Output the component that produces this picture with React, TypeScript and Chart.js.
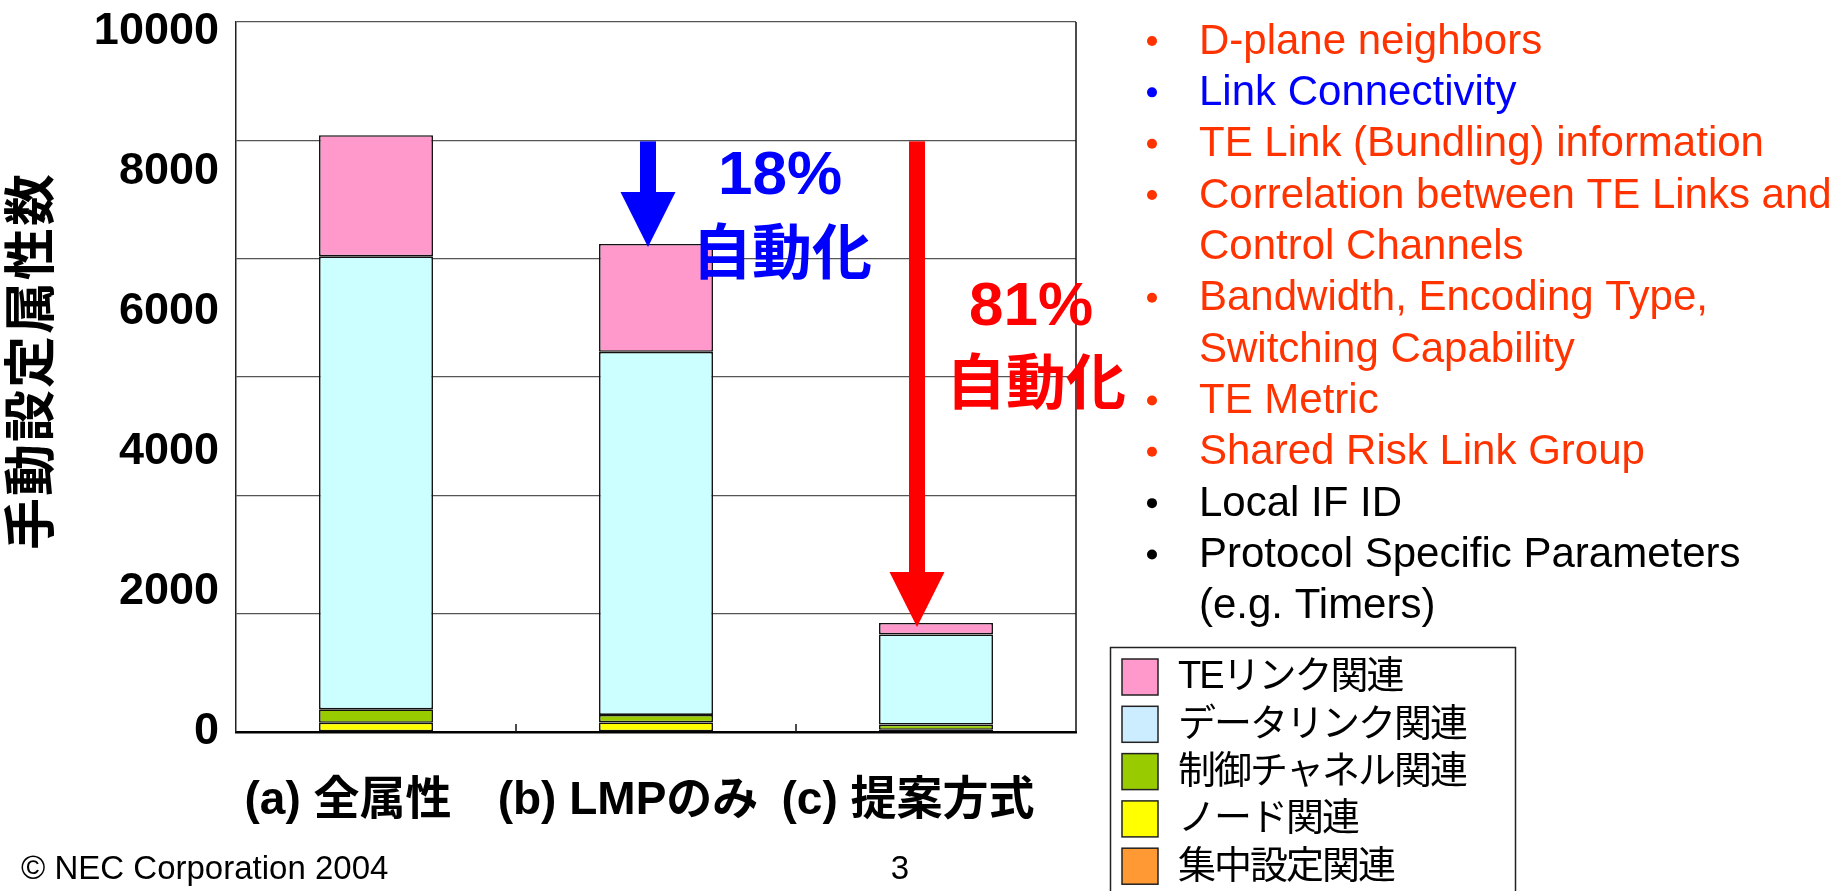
import React, { useEffect, useRef } from 'react';
import { Chart, registerables } from 'chart.js';

Chart.register(...registerables);

// ---------- data ----------
const categories = ['(a) 全属性', '(b) LMPのみ', '(c) 提案方式'];
const seriesNames = ['集中設定関連', 'ノード関連', '制御チャネル関連', 'データリンク関連', 'TEリンク関連'];
const centralValues = [0, 0, 0];
const nodeValues = [130, 135, 30];
const controlValues = [190, 105, 75];
const dataLinkValues = [6380, 5115, 1270];
const teLinkValues = [1705, 1518, 160];
const yTickLabels = [0, 2000, 4000, 6000, 8000, 10000];
const gridValues = [0, 1667, 3333, 5000, 6667, 8333, 10000];
const yTitle = '手動設定属性数';
const reductionLabels = ['18%', '81%'];
const automationLabel = '自動化';
const bulletTexts = [
  'D-plane neighbors',
  'Link Connectivity',
  'TE Link (Bundling) information',
  'Correlation between TE Links and',
  'Control Channels',
  'Bandwidth, Encoding Type,',
  'Switching Capability',
  'TE Metric',
  'Shared Risk Link Group',
  'Local IF ID',
  'Protocol Specific Parameters',
  '(e.g. Timers)',
];
const bulletFlags = [true, true, true, true, false, true, false, true, true, true, true, false];
const footerText = '© NEC Corporation 2004';
const pageNumber = '3';

// ---------- styles ----------
const seriesColors = ['#FF9933', '#FFFF00', '#99CC00', '#CCFFFF', '#FF99CC'];
const legendSwatchColors = ['#FF9933', '#FFFF00', '#99CC00', '#CCECFF', '#FF99CC'];
const bulletColors = ['#FF3300', '#0000FF', '#FF3300', '#FF3300', '#FF3300', '#FF3300', '#FF3300', '#FF3300', '#FF3300', '#000000', '#000000', '#000000'];
const FONT = '"Liberation Sans", Arial, "Noto Sans CJK JP", sans-serif';

const seriesValues = [centralValues, nodeValues, controlValues, dataLinkValues, teLinkValues];

function drawArrow(ctx: CanvasRenderingContext2D, cx: number, y0: number, tipY: number, color: string) {
  const shaftHalf = 8;
  const headHalf = 27.5;
  const headLen = 55;
  ctx.fillStyle = color;
  ctx.fillRect(cx - shaftHalf, y0, shaftHalf * 2, tipY - headLen - y0 + 1);
  ctx.beginPath();
  ctx.moveTo(cx - headHalf, tipY - headLen);
  ctx.lineTo(cx + headHalf, tipY - headLen);
  ctx.lineTo(cx, tipY);
  ctx.closePath();
  ctx.fill();
}

const annotPlugin = {
  id: 'annot',
  afterDraw(chart: any) {
    const { ctx, chartArea: ca, scales } = chart;
    const xs = scales.x;
    const ys = scales.y;
    ctx.save();
    // right border of plot
    ctx.strokeStyle = '#111';
    ctx.lineWidth = 1.5;
    ctx.beginPath();
    ctx.moveTo(ca.right, ca.top);
    ctx.lineTo(ca.right, ca.bottom);
    ctx.stroke();
    // category boundary ticks
    for (let i = 1; i < categories.length; i++) {
      const px = (xs.getPixelForValue(i - 1) + xs.getPixelForValue(i)) / 2;
      ctx.beginPath();
      ctx.moveTo(px, ca.bottom);
      ctx.lineTo(px, ca.bottom - 8);
      ctx.stroke();
    }

    // y axis title
    ctx.save();
    ctx.translate(35, 361);
    ctx.rotate(-Math.PI / 2);
    ctx.textAlign = 'center';
    ctx.textBaseline = 'middle';
    ctx.fillStyle = '#000';
    ctx.font = `bold 52px ${FONT}`;
    try { (ctx as any).letterSpacing = '2px'; } catch (e) {}
    ctx.fillText(yTitle, 0, 0);
    try { (ctx as any).letterSpacing = '0px'; } catch (e) {}
    ctx.restore();

    // arrows
    const totals = categories.map((_, i) => seriesValues.reduce((s, arr) => s + arr[i], 0));
    const startY = ys.getPixelForValue(gridValues[5]) + 1;
    drawArrow(ctx, xs.getPixelForValue(1) - 8, startY, ys.getPixelForValue(totals[1]) + 3, '#0000FF');
    drawArrow(ctx, xs.getPixelForValue(2) - 19, startY, ys.getPixelForValue(totals[2]) + 4, '#FF0000');

    // annotation texts
    ctx.textAlign = 'center';
    ctx.textBaseline = 'middle';
    ctx.fillStyle = '#0000FF';
    ctx.font = `bold 62px ${FONT}`;
    ctx.fillText(reductionLabels[0], 780, 177);
    ctx.font = `bold 60px ${FONT}`;
    ctx.fillText(automationLabel, 782, 257);
    ctx.fillStyle = '#FF0000';
    ctx.font = `bold 62px ${FONT}`;
    ctx.fillText(reductionLabels[1], 1031, 308);
    ctx.font = `bold 60px ${FONT}`;
    ctx.fillText(automationLabel, 1036, 387);

    // bullet list
    ctx.textAlign = 'left';
    ctx.font = `42px ${FONT}`;
    bulletTexts.forEach((t, i) => {
      const cy = 41 + 51.35 * i;
      ctx.fillStyle = bulletColors[i];
      if (bulletFlags[i]) {
        ctx.beginPath();
        ctx.arc(1152, cy, 5, 0, Math.PI * 2);
        ctx.fill();
      }
      ctx.fillText(t, 1199, cy + 1);
    });

    // legend box
    ctx.strokeStyle = '#222';
    ctx.lineWidth = 1.5;
    ctx.strokeRect(1110.5, 647.5, 405, 260);
    const ds = chart.data.datasets;
    const order = ds.map((_: any, i: number) => i).reverse();
    ctx.font = `38px ${FONT}`;
    try { (ctx as any).letterSpacing = '-2px'; } catch (e) {}
    order.forEach((di: number, k: number) => {
      const top = 659 + 47.3 * k;
      ctx.fillStyle = legendSwatchColors[di];
      ctx.fillRect(1122, top, 36, 36);
      ctx.strokeRect(1122, top, 36, 36);
      ctx.fillStyle = '#000';
      ctx.fillText(ds[di].label, 1178, top + 19);
    });
    try { (ctx as any).letterSpacing = '0px'; } catch (e) {}

    // footer
    ctx.fillStyle = '#000';
    ctx.font = `33px ${FONT}`;
    ctx.fillText(footerText, 21, 870);
    ctx.textAlign = 'center';
    ctx.fillText(pageNumber, 900, 870);
    ctx.restore();
  },
};

export default function App() {
  const ref = useRef<HTMLCanvasElement>(null);
  useEffect(() => {
    if (!ref.current) return;
    const chart = new Chart(ref.current, {
      type: 'bar',
      data: {
        labels: categories,
        datasets: seriesNames.map((name, k) => ({
          label: name,
          data: seriesValues[k],
          backgroundColor: seriesColors[k],
          borderColor: '#111',
          borderWidth: (c: any) => (c.raw ? 1.6 : 0),
          borderSkipped: false,
          barPercentage: 0.407,
          categoryPercentage: 1,
          xAxisID: 'x',
          yAxisID: 'y',
        })),
      },
      options: {
        responsive: false,
        animation: false,
        devicePixelRatio: 1,
        layout: { padding: { top: 22, right: 758, bottom: 0, left: 0 } },
        plugins: { legend: { display: false }, tooltip: { enabled: false } },
        scales: {
          x: {
            type: 'category',
            stacked: true,
            offset: true,
            grid: { display: false, drawTicks: false },
            border: { display: true, color: '#000', width: 2.5 },
            ticks: {
              font: { size: 46, weight: 'bold', family: FONT },
              color: '#000',
              padding: 42,
              labelOffset: -28,
              maxRotation: 0,
              autoSkip: false,
            },
            afterFit: (s: any) => {
              s.height = 159;
              s.paddingLeft = 0;
              s.paddingRight = 0;
            },
          },
          y: {
            stacked: true,
            position: 'left',
            min: 0,
            max: 10000,
            grid: { color: '#555', lineWidth: 1.3, drawTicks: false },
            border: { display: true, color: '#222', width: 1.5 },
            ticks: { display: false },
            afterBuildTicks: (s: any) => {
              s.ticks = gridValues.map((v) => ({ value: v }));
            },
            afterFit: (s: any) => {
              s.width = 0;
              s.paddingTop = 0;
              s.paddingBottom = 0;
            },
          },
          y2: {
            position: 'left',
            min: 0,
            max: 10140,
            grid: { display: false, drawTicks: false },
            border: { display: false },
            ticks: {
              font: { size: 45, weight: 'bold', family: FONT },
              color: '#000',
              padding: 17,
              callback: (v: any) => String(v),
            },
            afterBuildTicks: (s: any) => {
              s.ticks = yTickLabels.map((v) => ({ value: v }));
            },
            title: { display: false },
            afterFit: (s: any) => {
              s.width = 236;
              s.paddingTop = 0;
              s.paddingBottom = 0;
            },
          },
        },
      } as any,
      plugins: [annotPlugin],
    });
    return () => chart.destroy();
  }, []);
  return (
    <div style={{ position: 'absolute', left: 0, top: 0, width: 1834, height: 891, background: '#fff' }}>
      <canvas ref={ref} width={1834} height={891} />
    </div>
  );
}
